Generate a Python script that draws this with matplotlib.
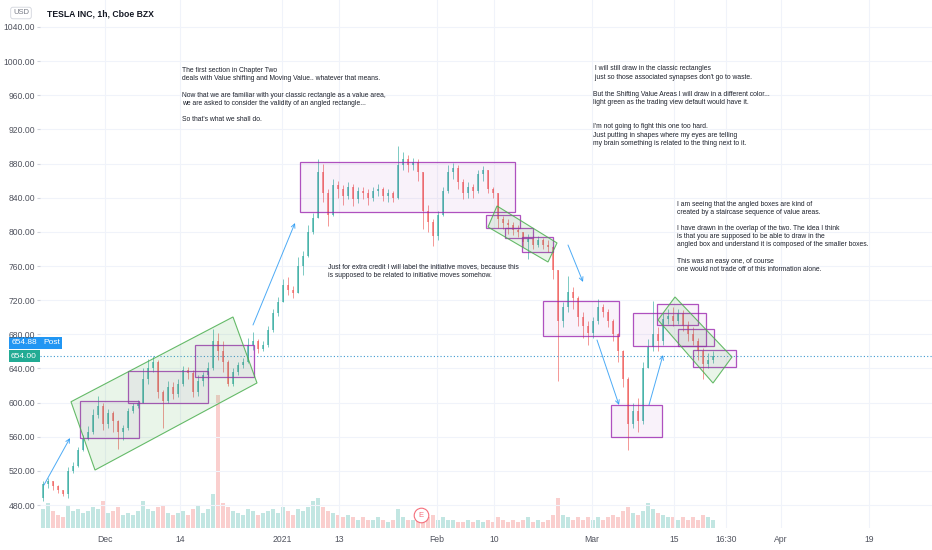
import numpy as np
import matplotlib.pyplot as plt
from matplotlib.patches import Rectangle, Polygon
from matplotlib.colors import to_rgba

plt.rcParams['font.family'] = ['Liberation Sans', 'DejaVu Sans']

# TSLA bars, roughly one bar every 5 px (late Nov 2020 -> Mar 2021)
first_open = 488
closes = [505, 508, 502, 498, 493, 520, 526, 545, 557, 565,
          585, 596, 575, 588, 578, 565, 570, 590, 596, 600,
          628, 640, 648, 612, 602, 618, 610, 622, 638, 635,
          612, 625, 632, 640, 672, 660, 648, 622, 636, 644,
          648, 668, 672, 663, 667, 685, 705, 718, 738, 732,
          728, 760, 772, 800, 816, 870, 845, 820, 855, 850,
          842, 852, 838, 848, 845, 840, 848, 850, 842, 846,
          840, 878, 885, 878, 882, 870, 825, 812, 795, 820,
          848, 870, 875, 858, 845, 852, 848, 868, 872, 850,
          845, 815, 810, 808, 802, 800, 788, 792, 785, 790,
          785, 782, 755, 695, 712, 730, 722, 700, 690, 682,
          695, 712, 706, 695, 680, 660, 628, 575, 590, 578,
          640, 665, 680, 672, 698, 702, 695, 705, 690, 680,
          672, 660, 645, 650, 654]
highs = [508, 512, 508, 503, 498, 524, 530, 548, 562, 572,
         592, 608, 600, 592, 590, 580, 574, 594, 600, 603,
         640, 651, 655, 650, 615, 625, 624, 628, 643, 642,
         638, 632, 636, 648, 686, 682, 672, 650, 640, 648,
         652, 676, 683, 675, 672, 690, 710, 724, 745, 747,
         736, 770, 778, 808, 822, 885, 880, 850, 862, 860,
         855, 858, 856, 852, 853, 850, 853, 856, 853, 850,
         848, 900, 893, 890, 887, 885, 870, 832, 815, 825,
         852, 878, 881, 878, 862, 858, 856, 872, 877, 872,
         853, 846, 818, 815, 812, 808, 800, 798, 795, 795,
         793, 790, 783, 755, 718, 748, 735, 725, 706, 695,
         700, 721, 716, 710, 698, 682, 662, 630, 600, 605,
         648, 675, 719, 688, 705, 710, 712, 710, 708, 695,
         688, 676, 664, 658, 660]
lows = [485, 500, 498, 494, 490, 488, 518, 524, 543, 556,
        563, 582, 568, 570, 566, 546, 556, 568, 588, 594,
        600, 622, 636, 605, 570, 600, 604, 606, 620, 628,
        606, 608, 620, 628, 638, 650, 636, 619, 620, 632,
        640, 646, 662, 658, 660, 665, 683, 702, 720, 726,
        722, 728, 750, 770, 798, 816, 835, 807, 818, 840,
        832, 838, 830, 834, 838, 832, 836, 842, 836, 835,
        835, 838, 872, 870, 872, 860, 803, 800, 783, 791,
        818, 845, 862, 850, 838, 840, 840, 846, 860, 845,
        840, 805, 803, 798, 796, 794, 782, 768, 780, 782,
        780, 776, 745, 625, 688, 706, 710, 690, 676, 667,
        676, 692, 700, 688, 672, 648, 618, 544, 570, 566,
        575, 640, 660, 660, 668, 692, 690, 692, 684, 672,
        668, 650, 628, 640, 646]
volumes = [9, 12, 8, 6, 5, 11, 8, 9, 7, 8,
           10, 9, 13, 7, 8, 10, 6, 7, 6, 8,
           13, 9, 8, 10, 11, 7, 6, 7, 8, 6,
           9, 11, 7, 9, 16, 63, 12, 10, 8, 7,
           6, 9, 8, 6, 7, 8, 9, 7, 10, 8,
           6, 9, 8, 10, 13, 14, 10, 8, 7, 6,
           5, 6, 5, 4, 5, 4, 4, 5, 4, 3,
           4, 9, 5, 4, 4, 5, 8, 5, 6, 4,
           5, 4, 4, 3, 3, 4, 3, 4, 3, 4,
           3, 5, 4, 3, 4, 3, 4, 5, 3, 4,
           3, 4, 6, 14, 6, 5, 4, 5, 4, 5,
           4, 5, 4, 5, 6, 5, 8, 10, 7, 6,
           8, 12, 9, 7, 6, 5, 5, 4, 5, 4,
           5, 4, 6, 5, 4]

price_ticks = [480, 520, 560, 600, 640, 680, 720, 760, 800, 840, 880, 920, 960, 1000, 1040]
time_ticks = [12.4, 27.4, 47.8, 59.2, 78.8, 90.2, 109.8, 126.2, 136.6, 147.6, 165.2]
time_labels = ['Dec', '14', '2021', '13', 'Feb', '10', 'Mar', '15', '16:30', 'Apr', '19']
last_price = 654.0

# drawings: value-area rectangles (bar from, bar to, top price, bottom price)
value_boxes = [(7.4, 19.2, 602, 558.5), (17, 33, 637, 599.5), (30.4, 42.2, 667.5, 630),
               (51.4, 94.4, 881.8, 823.3), (88.6, 95.4, 819.8, 804.5), (92.4, 98, 804.5, 792.8),
               (95.8, 102, 794, 776.4), (100, 115.2, 719, 678), (113.6, 123.8, 597.2, 559.7),
               (118, 132.6, 705, 666.3), (122.8, 131, 715.5, 691), (127, 134.2, 686.2, 666.3),
               (130, 138.6, 661.6, 641.7)]
# angled (shifting) value areas, 4 corners each
angled_boxes = [[(5.6, 601), (38, 700.3), (42.8, 623), (10.4, 521)],
                [(90.8, 830.3), (102.8, 787), (101, 764.7), (89, 805.7)],
                [(126.4, 723.7), (137.8, 653.4), (134, 622.9), (123, 696.8)]]
# initiative move arrows (tail, head)
arrows = [((0.2, 503.5), (5.4, 558.5)), ((42, 690.9), (50.4, 810.4)),
          ((105, 784.6), (108, 741.3)), ((110.8, 673.3), (115.2, 597.2)),
          ((121.2, 597.2), (124, 655.7))]

note1 = ("The first section in Chapter Two\n"
         "deals with Value shifting and Moving Value.. whatever that means.\n\n"
         "Now that we are familiar with your classic rectangle as a value area,\n"
         "we are asked to consider the validity of an angled rectangle...\n\n"
         "So that's what we shall do.")
note2a = (" I will still draw in the classic rectangles\n"
          " just so those associated synapses don't go to waste.")
note2b = ("But the Shifting Value Areas I will draw in a different color...\n"
          "light green as the trading view default would have it.")
note2c = ("I'm not going to fight this one too hard.\n"
          "Just putting in shapes where my eyes are telling\n"
          "my brain something is related to the thing next to it.")
note3 = ("I am seeing that the angled boxes are kind of\n"
         "created by a staircase sequence of value areas.\n\n"
         "I have drawn in the overlap of the two. The idea I think\n"
         "is that you are supposed to be able to draw in the\n"
         "angled box and understand it is composed of the smaller boxes.\n\n"
         "This was an easy one, of course\n"
         "one would not trade off of this information alone.")
note4 = ("Just for extra credit I will label the initiative moves, because this\n"
         "is supposed to be related to initiative moves somehow.")

fig = plt.figure(figsize=(9.32, 5.5), dpi=100)
ax = fig.add_axes([40/932, 22/550, 892/932, 528/550])
axv = ax.twinx()
ax.set_zorder(axv.get_zorder() + 1)
ax.patch.set_visible(False)

c = np.array(closes, dtype=float)
o = np.r_[first_open, c[:-1]]
h = np.maximum(np.array(highs, dtype=float), np.maximum(o, c))
l = np.minimum(np.array(lows, dtype=float), np.minimum(o, c))
x = np.arange(len(c))
cols = np.where(c >= o, '#26a69a', '#ef5350')

# volume at the bottom
axv.bar(x, volumes, width=0.8, color=cols, alpha=0.28, linewidth=0)
axv.set_ylim(0, 250)
axv.axis('off')

# candles
ax.vlines(x, l, h, colors=cols, linewidth=0.7, alpha=0.6)
ax.bar(x, np.maximum(np.abs(c - o), 0.8), bottom=np.minimum(o, c), width=0.45,
       color=cols, alpha=0.6, linewidth=0)

ax.set_xlim(-0.6, 177.8)
ax.set_ylim(453.1, 1071.6)
ax.set_yticks(price_ticks)
ax.set_yticklabels(['%.2f' % p for p in price_ticks])
ax.set_xticks(time_ticks)
ax.set_xticklabels(time_labels)
ax.grid(color='#f0f3fa', linewidth=0.8)
ax.set_axisbelow(True)
for s in ax.spines.values():
    s.set_visible(False)
ax.tick_params(axis='y', length=2, color='#d1d4dc', labelsize=6.2, labelcolor='#50535e', pad=1.5)
ax.tick_params(axis='x', length=0, labelsize=6.2, labelcolor='#50535e', pad=5)

ax.axhline(last_price, color='#3d9ad1', linestyle=(0, (1, 2)), linewidth=0.8)

purple = '#9c27b0'
for x0, x1, top, bot in value_boxes:
    ax.add_patch(Rectangle((x0, bot), x1 - x0, top - bot, facecolor=to_rgba(purple, 0.06),
                           edgecolor=to_rgba(purple, 0.8), linewidth=0.9, zorder=4))
for pts in angled_boxes:
    ax.add_patch(Polygon(pts, closed=True, facecolor=to_rgba('#4caf50', 0.12),
                         edgecolor=to_rgba('#4caf50', 0.85), linewidth=0.8, zorder=4))
for tail, head in arrows:
    ax.annotate('', xy=head, xytext=tail,
                arrowprops=dict(arrowstyle='->', color='#2196f3', lw=0.7, alpha=0.8,
                                shrinkA=0, shrinkB=0, mutation_scale=7), zorder=5)

txt = dict(fontsize=4.85, va='top', ha='left', color='#1e222d', linespacing=1.23, zorder=6)
ax.text(27.8, 993, note1, **txt)
ax.text(110, 995, note2a, **txt)
ax.text(110, 965, note2b, **txt)
ax.text(110, 927, note2c, **txt)
ax.text(126.8, 836.5, note3, **txt)
ax.text(57, 763, note4, **txt)

# earnings marker
ax.plot(75.6, 468, 'o', ms=10.5, mfc='white', mec='#f56e7b', mew=0.8, zorder=6)
ax.text(75.6, 468, 'E', ha='center', va='center', fontsize=5.5, color='#f56e7b', zorder=7)

# header and price badges
fig.text(47/932, 1 - 14/550, 'TESLA INC, 1h, Cboe BZX', fontsize=6.2, weight='bold',
         va='center', color='#131722')
fig.text(21/932, 1 - 13/550, 'USD', fontsize=5.5, ha='center', va='center', color='#787b86',
         bbox=dict(boxstyle='round,pad=0.3', fc='white', ec='#d1d4dc', lw=0.6))
fig.add_artist(Rectangle((9/932, 1 - 349/550), 53/932, 12/550, transform=fig.transFigure,
                         facecolor='#2196f3', edgecolor='none'))
fig.text(24/932, 1 - 343/550, '654.88', fontsize=6, ha='center', va='center', color='white')
fig.text(52/932, 1 - 343/550, 'Post', fontsize=6, ha='center', va='center', color='white')
fig.add_artist(Rectangle((9/932, 1 - 362/550), 31/932, 12/550, transform=fig.transFigure,
                         facecolor='#22ab94', edgecolor='none'))
fig.text(24/932, 1 - 356/550, '654.00', fontsize=6, ha='center', va='center', color='white')

fig.savefig('out.png', dpi=100)
